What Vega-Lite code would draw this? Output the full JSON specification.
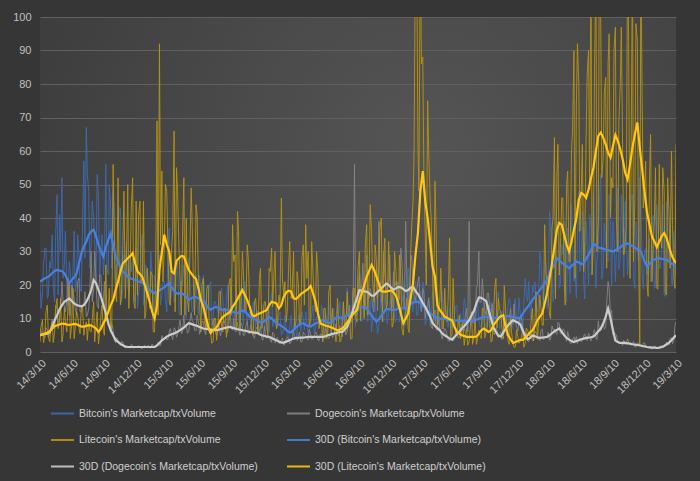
{
"$schema":"https://vega.github.io/schema/vega-lite/v6.json",
"width":636,"height":335,
"autosize":{"type":"none"},
"padding":{"left":40,"top":17,"right":24,"bottom":129},
"background":"#363636",
"config":{"view":{"stroke":null,"fill":{"gradient":"radial","x1":0.6,"y1":0.45,"r1":0,"x2":0.6,"y2":0.45,"r2":0.75,"stops":[{"offset":0,"color":"#555555"},{"offset":1,"color":"#393939"}]}}},
"data":{"values":[
{"d":"2014-03-10","b":21,"g":7,"l":3,"B":21,"G":5,"L":5},
{"d":"2014-03-17","b":17,"g":5.7,"l":9.5,"B":21.5,"G":5.2,"L":5.3},
{"d":"2014-03-24","b":31,"g":4.3,"l":5,"B":22,"G":5.4,"L":5.5},
{"d":"2014-03-31","b":16,"g":6.6,"l":14,"B":22.3,"G":5.5,"L":5.8},
{"d":"2014-04-07","b":27,"g":5.4,"l":3,"B":22.8,"G":6,"L":6.2},
{"d":"2014-04-14","b":35,"g":9.8,"l":9,"B":23.5,"G":7.5,"L":7},
{"d":"2014-04-21","b":15,"g":7.1,"l":6,"B":24.2,"G":9.5,"L":7.7},
{"d":"2014-04-28","b":47,"g":13,"l":16,"B":24.5,"G":11,"L":8},
{"d":"2014-05-05","b":41,"g":10,"l":9,"B":24.3,"G":12.7,"L":8.2},
{"d":"2014-05-12","b":52,"g":21,"l":3,"B":24.1,"G":14,"L":8.5},
{"d":"2014-05-19","b":26,"g":13.5,"l":13,"B":23.5,"G":15,"L":8.4},
{"d":"2014-05-26","b":20,"g":15.5,"l":6,"B":22,"G":15.5,"L":8.2},
{"d":"2014-06-02","b":27,"g":11,"l":21,"B":20.5,"G":16,"L":8.1},
{"d":"2014-06-09","b":15,"g":20,"l":8,"B":21.5,"G":15.2,"L":8.2},
{"d":"2014-06-16","b":36,"g":16,"l":4,"B":22.2,"G":14.5,"L":8.4},
{"d":"2014-06-23","b":21,"g":11,"l":12,"B":23.5,"G":14,"L":8.3},
{"d":"2014-06-30","b":29,"g":22,"l":7,"B":26.5,"G":13.8,"L":7.9},
{"d":"2014-07-07","b":18,"g":12,"l":14,"B":29.5,"G":13.6,"L":7.6},
{"d":"2014-07-14","b":57,"g":14,"l":5,"B":31.5,"G":14,"L":7.6},
{"d":"2014-07-21","b":67,"g":10.5,"l":9,"B":33,"G":15,"L":7.8},
{"d":"2014-07-28","b":48,"g":13,"l":10,"B":35,"G":16.5,"L":8},
{"d":"2014-08-04","b":32,"g":30,"l":6,"B":36,"G":18.5,"L":7.9},
{"d":"2014-08-11","b":40,"g":19,"l":15,"B":36.5,"G":21.5,"L":7.5},
{"d":"2014-08-18","b":21,"g":20.5,"l":8,"B":34.5,"G":20.5,"L":7},
{"d":"2014-08-25","b":46,"g":13,"l":2.4,"B":32,"G":18.5,"L":6},
{"d":"2014-09-01","b":30,"g":23,"l":11,"B":30,"G":16.5,"L":7},
{"d":"2014-09-08","b":23,"g":15,"l":6,"B":28.5,"G":14,"L":8.6},
{"d":"2014-09-15","b":56,"g":9.2,"l":26,"B":31.5,"G":11.5,"L":10},
{"d":"2014-09-22","b":23,"g":10,"l":12,"B":33.5,"G":8.5,"L":12},
{"d":"2014-09-29","b":43,"g":5.9,"l":7,"B":35.5,"G":6.5,"L":14},
{"d":"2014-10-06","b":48,"g":6.5,"l":56,"B":32,"G":5,"L":15.5},
{"d":"2014-10-13","b":17,"g":2.7,"l":17,"B":28.5,"G":3.6,"L":18.5},
{"d":"2014-10-20","b":27,"g":3.6,"l":52,"B":27,"G":3,"L":21},
{"d":"2014-10-27","b":43,"g":1.9,"l":14,"B":25.3,"G":2.4,"L":24},
{"d":"2014-11-03","b":19,"g":3,"l":32,"B":24,"G":2,"L":26.5},
{"d":"2014-11-10","b":26,"g":1.4,"l":16,"B":23.3,"G":1.6,"L":27.2},
{"d":"2014-11-17","b":20,"g":1.5,"l":50,"B":22.5,"G":1.5,"L":28},
{"d":"2014-11-24","b":29,"g":1.1,"l":26,"B":22,"G":1.5,"L":28.6},
{"d":"2014-12-01","b":28,"g":2,"l":52,"B":21.7,"G":1.5,"L":29.5},
{"d":"2014-12-08","b":15,"g":1.7,"l":13,"B":21.5,"G":1.5,"L":26.5},
{"d":"2014-12-15","b":13,"g":1.4,"l":17,"B":21.2,"G":1.5,"L":24},
{"d":"2014-12-22","b":21,"g":1.5,"l":45,"B":20.9,"G":1.5,"L":23.3},
{"d":"2014-12-29","b":35,"g":1,"l":22,"B":20.6,"G":1.5,"L":22.3},
{"d":"2015-01-05","b":16,"g":2,"l":10,"B":20,"G":1.5,"L":20},
{"d":"2015-01-12","b":21,"g":1.7,"l":25,"B":19.2,"G":1.5,"L":17.5},
{"d":"2015-01-19","b":17,"g":1.2,"l":13,"B":18.5,"G":1.5,"L":15},
{"d":"2015-01-26","b":23,"g":2.4,"l":23,"B":18,"G":1.5,"L":12},
{"d":"2015-02-02","b":23,"g":1.4,"l":6,"B":17.6,"G":1.5,"L":10},
{"d":"2015-02-09","b":12,"g":2,"l":69,"B":17.7,"G":2,"L":14},
{"d":"2015-02-16","b":29,"g":1.9,"l":92,"B":18.3,"G":2.7,"L":24.5},
{"d":"2015-02-23","b":17,"g":4.9,"l":54,"B":18.9,"G":3.5,"L":30},
{"d":"2015-03-02","b":21,"g":4.4,"l":32,"B":19.3,"G":4,"L":35},
{"d":"2015-03-09","b":12,"g":3.7,"l":48,"B":20,"G":4.6,"L":32},
{"d":"2015-03-16","b":37,"g":6,"l":15,"B":20.5,"G":5,"L":30},
{"d":"2015-03-23","b":19,"g":4.8,"l":31,"B":19.3,"G":5.3,"L":24},
{"d":"2015-03-30","b":15,"g":7.2,"l":66,"B":18.2,"G":5.5,"L":23.5},
{"d":"2015-04-06","b":25,"g":4.4,"l":55,"B":17.5,"G":5.9,"L":27.2},
{"d":"2015-04-13","b":12,"g":7.6,"l":31,"B":17.5,"G":6.3,"L":28},
{"d":"2015-04-20","b":21,"g":5.4,"l":11,"B":17.5,"G":6.8,"L":28.7},
{"d":"2015-04-27","b":26,"g":11,"l":52,"B":17.2,"G":7.3,"L":28.5},
{"d":"2015-05-04","b":10,"g":8,"l":40,"B":16.5,"G":8,"L":26.5},
{"d":"2015-05-11","b":28,"g":6,"l":12,"B":15.6,"G":8.6,"L":24.5},
{"d":"2015-05-18","b":16,"g":11.8,"l":49,"B":16,"G":8.4,"L":23.5},
{"d":"2015-05-25","b":13,"g":8.9,"l":18,"B":16.4,"G":8.1,"L":22.5},
{"d":"2015-06-01","b":23,"g":6.3,"l":44,"B":16.4,"G":7.9,"L":21.8},
{"d":"2015-06-08","b":11,"g":9.1,"l":21,"B":16,"G":7.6,"L":19},
{"d":"2015-06-15","b":19,"g":6.6,"l":6,"B":15.7,"G":7.3,"L":15.5},
{"d":"2015-06-22","b":23,"g":9.1,"l":22,"B":15.4,"G":7,"L":13.5},
{"d":"2015-06-29","b":9,"g":5.2,"l":7,"B":14.3,"G":6.9,"L":10.5},
{"d":"2015-07-06","b":13,"g":8.2,"l":20,"B":13.2,"G":6.8,"L":7.5},
{"d":"2015-07-13","b":21,"g":5.4,"l":6,"B":12.6,"G":6.7,"L":5.7},
{"d":"2015-07-20","b":10,"g":9.9,"l":3,"B":13.1,"G":6.6,"L":6.5},
{"d":"2015-07-27","b":15,"g":5.9,"l":10,"B":13.4,"G":6.5,"L":7},
{"d":"2015-08-03","b":12,"g":6.6,"l":7,"B":13.3,"G":6.6,"L":8},
{"d":"2015-08-10","b":17,"g":4.8,"l":18,"B":12.8,"G":6.8,"L":9.5},
{"d":"2015-08-17","b":16,"g":9.1,"l":6,"B":12.5,"G":7,"L":10.5},
{"d":"2015-08-24","b":9,"g":7.9,"l":13,"B":12.5,"G":7.2,"L":11},
{"d":"2015-08-31","b":20,"g":5.9,"l":7,"B":12.5,"G":7.4,"L":11.5},
{"d":"2015-09-07","b":11,"g":12,"l":22,"B":12.5,"G":7.5,"L":12},
{"d":"2015-09-14","b":13,"g":6.5,"l":38,"B":12,"G":7.2,"L":13.5},
{"d":"2015-09-21","b":14,"g":6.3,"l":29,"B":11.8,"G":7,"L":14.5},
{"d":"2015-09-28","b":17,"g":8.8,"l":42,"B":11.6,"G":6.8,"L":15.8},
{"d":"2015-10-05","b":7,"g":5,"l":7,"B":12,"G":6.7,"L":17.2},
{"d":"2015-10-12","b":12,"g":7.8,"l":30,"B":12.4,"G":6.5,"L":18.5},
{"d":"2015-10-19","b":21,"g":5.1,"l":12,"B":12.1,"G":6.4,"L":17},
{"d":"2015-10-26","b":9,"g":9.3,"l":32,"B":11.4,"G":6.2,"L":15.5},
{"d":"2015-11-02","b":12,"g":5.4,"l":14,"B":10.5,"G":6,"L":13.5},
{"d":"2015-11-09","b":9,"g":5.9,"l":6,"B":10.2,"G":5.9,"L":11},
{"d":"2015-11-16","b":13,"g":4.1,"l":15,"B":9.8,"G":5.8,"L":10.7},
{"d":"2015-11-23","b":12,"g":7.4,"l":10,"B":9.5,"G":5.7,"L":11.2},
{"d":"2015-11-30","b":6,"g":5.8,"l":22,"B":9,"G":5.3,"L":11.5},
{"d":"2015-12-07","b":14,"g":4,"l":7,"B":8.7,"G":5,"L":11.8},
{"d":"2015-12-14","b":8,"g":7.7,"l":15,"B":9.2,"G":4.8,"L":12.2},
{"d":"2015-12-21","b":11,"g":4.1,"l":8,"B":9.8,"G":4.6,"L":12.5},
{"d":"2015-12-28","b":6,"g":4.5,"l":25,"B":10.4,"G":4.5,"L":14},
{"d":"2016-01-04","b":18,"g":2.9,"l":31,"B":10,"G":4.2,"L":15},
{"d":"2016-01-11","b":9,"g":5.3,"l":24,"B":9.3,"G":3.8,"L":14.8},
{"d":"2016-01-18","b":7,"g":3.9,"l":7,"B":8.6,"G":3.5,"L":14.5},
{"d":"2016-01-25","b":11,"g":2.5,"l":17,"B":8.2,"G":3.1,"L":13},
{"d":"2016-02-01","b":5,"g":3.4,"l":46,"B":7.8,"G":2.8,"L":14},
{"d":"2016-02-08","b":7,"g":2,"l":17,"B":7.3,"G":2.8,"L":16.5},
{"d":"2016-02-15","b":7,"g":4,"l":9,"B":6.6,"G":3.1,"L":17.8},
{"d":"2016-02-22","b":4,"g":3.7,"l":26,"B":6,"G":3.4,"L":18.3},
{"d":"2016-02-29","b":11,"g":3,"l":16,"B":5.9,"G":3.7,"L":18},
{"d":"2016-03-07","b":7,"g":6.4,"l":30,"B":6.6,"G":4,"L":16},
{"d":"2016-03-14","b":6,"g":3.8,"l":9,"B":7.3,"G":4.2,"L":15.8},
{"d":"2016-03-21","b":11,"g":4.2,"l":20,"B":8,"G":4.2,"L":16.5},
{"d":"2016-03-28","b":6,"g":3,"l":10,"B":8.4,"G":4.3,"L":17.3},
{"d":"2016-04-04","b":10,"g":6,"l":32,"B":8.6,"G":4.3,"L":17.8},
{"d":"2016-04-11","b":12,"g":4.8,"l":38,"B":8.1,"G":4.4,"L":18.3},
{"d":"2016-04-18","b":5,"g":3.6,"l":30,"B":7.7,"G":4.5,"L":18.8},
{"d":"2016-04-25","b":8,"g":5.4,"l":10,"B":7.6,"G":4.5,"L":19.7},
{"d":"2016-05-02","b":14,"g":4,"l":23,"B":8.1,"G":4.5,"L":17.5},
{"d":"2016-05-09","b":7,"g":5.9,"l":12,"B":8.5,"G":4.5,"L":15},
{"d":"2016-05-16","b":10,"g":3.4,"l":23,"B":8.8,"G":4.5,"L":11.5},
{"d":"2016-05-23","b":8,"g":5.4,"l":9,"B":9.2,"G":4.5,"L":8.5},
{"d":"2016-05-30","b":12,"g":3.6,"l":3,"B":9.5,"G":4.5,"L":8.2},
{"d":"2016-06-06","b":12,"g":7,"l":13,"B":9.2,"G":4.7,"L":7.9},
{"d":"2016-06-13","b":6,"g":4.5,"l":5,"B":8.8,"G":5,"L":7.7},
{"d":"2016-06-20","b":14,"g":5.2,"l":20,"B":8.6,"G":5.2,"L":7.5},
{"d":"2016-06-27","b":13,"g":4.3,"l":13,"B":9.3,"G":5.4,"L":7.2},
{"d":"2016-07-04","b":7,"g":6.7,"l":6,"B":10,"G":5.6,"L":6.8},
{"d":"2016-07-11","b":13,"g":5.2,"l":16,"B":10.5,"G":5.8,"L":6.5},
{"d":"2016-07-18","b":15,"g":7.8,"l":3,"B":10.3,"G":6,"L":6.7},
{"d":"2016-07-25","b":6,"g":4.5,"l":9,"B":10.1,"G":6,"L":7},
{"d":"2016-08-01","b":10,"g":8.2,"l":6,"B":10.4,"G":6.8,"L":7.8},
{"d":"2016-08-08","b":19,"g":6,"l":18,"B":11,"G":7.5,"L":8.8},
{"d":"2016-08-15","b":9,"g":14,"l":11,"B":11.5,"G":9.5,"L":9.8},
{"d":"2016-08-22","b":13,"g":10,"l":4,"B":11.6,"G":11.5,"L":11},
{"d":"2016-08-29","b":11,"g":56,"l":19,"B":11.8,"G":14,"L":11.8},
{"d":"2016-09-05","b":16,"g":11,"l":9,"B":12,"G":16,"L":12.5},
{"d":"2016-09-12","b":18,"g":24,"l":30,"B":13.5,"G":18.5,"L":15.5},
{"d":"2016-09-19","b":9,"g":20,"l":18,"B":13.4,"G":18.3,"L":17.5},
{"d":"2016-09-26","b":21,"g":14,"l":10,"B":13.2,"G":18.1,"L":20},
{"d":"2016-10-03","b":12,"g":29,"l":38,"B":13,"G":18,"L":22.5},
{"d":"2016-10-10","b":13,"g":16,"l":22,"B":12,"G":17.5,"L":24.2},
{"d":"2016-10-17","b":6,"g":17,"l":36,"B":10.8,"G":16.8,"L":26},
{"d":"2016-10-24","b":18,"g":12,"l":15,"B":10,"G":16.8,"L":24.5},
{"d":"2016-10-31","b":9,"g":25,"l":27,"B":9,"G":17.6,"L":22.5},
{"d":"2016-11-07","b":8,"g":39,"l":26,"B":9.8,"G":18.3,"L":20.5},
{"d":"2016-11-14","b":18,"g":15,"l":40,"B":10.8,"G":19,"L":18.2},
{"d":"2016-11-21","b":9,"g":30,"l":29,"B":11.8,"G":19.7,"L":18},
{"d":"2016-11-28","b":14,"g":18,"l":13,"B":12.8,"G":20.4,"L":18},
{"d":"2016-12-05","b":12,"g":20,"l":33,"B":12.8,"G":20,"L":18.2},
{"d":"2016-12-12","b":16,"g":13,"l":18,"B":12.6,"G":19.2,"L":18.4},
{"d":"2016-12-19","b":16,"g":24,"l":9,"B":12.5,"G":18.6,"L":17.8},
{"d":"2016-12-26","b":9,"g":21,"l":24,"B":12.7,"G":19,"L":16.8},
{"d":"2017-01-02","b":21,"g":16,"l":13,"B":12.9,"G":19.4,"L":14.5},
{"d":"2017-01-09","b":12,"g":31,"l":22,"B":13,"G":19.3,"L":11.5},
{"d":"2017-01-16","b":14,"g":17,"l":5,"B":13,"G":18.8,"L":8.6},
{"d":"2017-01-23","b":8,"g":39,"l":12,"B":13,"G":18.2,"L":10},
{"d":"2017-01-30","b":25,"g":13,"l":7,"B":13.7,"G":18.5,"L":11.5},
{"d":"2017-02-06","b":14,"g":27,"l":29,"B":14.3,"G":19.2,"L":16},
{"d":"2017-02-13","b":12,"g":21,"l":45,"B":14.8,"G":19.5,"L":20.5},
{"d":"2017-02-20","b":21,"g":15,"l":125,"B":14.9,"G":18.2,"L":29},
{"d":"2017-02-27","b":11,"g":21,"l":62,"B":15,"G":17.3,"L":35.5},
{"d":"2017-03-06","b":18,"g":14,"l":125,"B":14.6,"G":16,"L":48},
{"d":"2017-03-13","b":21,"g":19,"l":88,"B":13.8,"G":14.7,"L":54},
{"d":"2017-03-20","b":8,"g":10,"l":35,"B":13,"G":13.5,"L":45},
{"d":"2017-03-27","b":12,"g":14,"l":75,"B":12.2,"G":12,"L":40},
{"d":"2017-04-03","b":8,"g":11.6,"l":46,"B":11.6,"G":10.5,"L":33},
{"d":"2017-04-10","b":18,"g":7,"l":23,"B":11,"G":8.7,"L":25.5},
{"d":"2017-04-17","b":9,"g":12.5,"l":51,"B":10.5,"G":7.8,"L":22.5},
{"d":"2017-04-24","b":11,"g":6.4,"l":8,"B":10,"G":7.1,"L":14},
{"d":"2017-05-01","b":6,"g":6.5,"l":15,"B":10,"G":6.5,"L":12.5},
{"d":"2017-05-08","b":18,"g":3.9,"l":7,"B":10,"G":5.5,"L":11.5},
{"d":"2017-05-15","b":10,"g":7,"l":19,"B":9.9,"G":5,"L":10.5},
{"d":"2017-05-22","b":8,"g":5,"l":9,"B":9.7,"G":4.5,"L":10.2},
{"d":"2017-05-29","b":13,"g":3.2,"l":34,"B":9.5,"G":4,"L":9.8},
{"d":"2017-06-05","b":7,"g":4.4,"l":5,"B":9.5,"G":3.7,"L":9.5},
{"d":"2017-06-12","b":11,"g":4,"l":10,"B":9.4,"G":4.5,"L":7.5},
{"d":"2017-06-19","b":14,"g":6.9,"l":5,"B":9.4,"G":5.3,"L":6},
{"d":"2017-06-26","b":6,"g":4.5,"l":11,"B":9.3,"G":6,"L":5.5},
{"d":"2017-07-03","b":9,"g":8.4,"l":5.5,"B":9.3,"G":7,"L":5},
{"d":"2017-07-10","b":16,"g":6.2,"l":2,"B":9.3,"G":7.7,"L":4.8},
{"d":"2017-07-17","b":7,"g":13,"l":7,"B":9.2,"G":8.6,"L":4.5},
{"d":"2017-07-24","b":10,"g":39,"l":3,"B":9.2,"G":9.5,"L":4.5},
{"d":"2017-07-31","b":8,"g":11,"l":12,"B":9.2,"G":11,"L":4.5},
{"d":"2017-08-07","b":12,"g":8.6,"l":4.5,"B":9.3,"G":12.3,"L":4.5},
{"d":"2017-08-14","b":12,"g":19,"l":2.3,"B":9.6,"G":14.5,"L":4.6},
{"d":"2017-08-21","b":10,"g":30,"l":6.6,"B":9.9,"G":16.3,"L":5.5},
{"d":"2017-08-28","b":8,"g":15,"l":4,"B":10.2,"G":16.2,"L":6.5},
{"d":"2017-09-04","b":15,"g":16,"l":13,"B":10.4,"G":15.7,"L":7},
{"d":"2017-09-11","b":7,"g":11,"l":6,"B":10.5,"G":15.2,"L":6.5},
{"d":"2017-09-18","b":12,"g":17.5,"l":14,"B":10.4,"G":12.5,"L":6},
{"d":"2017-09-25","b":15,"g":11,"l":3,"B":10.3,"G":10,"L":6.5},
{"d":"2017-10-02","b":6,"g":5.8,"l":10,"B":10.2,"G":7.3,"L":8},
{"d":"2017-10-09","b":10,"g":7.2,"l":22,"B":10.2,"G":6,"L":9},
{"d":"2017-10-16","b":18,"g":4.3,"l":16,"B":10.4,"G":4.8,"L":10},
{"d":"2017-10-23","b":8,"g":6,"l":12,"B":10.5,"G":4.6,"L":10.7},
{"d":"2017-10-30","b":12,"g":4.4,"l":4,"B":10.6,"G":5.8,"L":11},
{"d":"2017-11-06","b":10,"g":8.4,"l":12,"B":10.7,"G":7,"L":7.5},
{"d":"2017-11-13","b":14,"g":6.4,"l":3.5,"B":10.7,"G":8,"L":5},
{"d":"2017-11-20","b":14,"g":13,"l":10,"B":10.6,"G":8.8,"L":3.8},
{"d":"2017-11-27","b":7,"g":8.6,"l":2.7,"B":10.5,"G":9.5,"L":2.7},
{"d":"2017-12-04","b":16,"g":9.1,"l":1.5,"B":10.3,"G":9.1,"L":3},
{"d":"2017-12-11","b":9,"g":6.2,"l":4.6,"B":10.1,"G":8.8,"L":3.3},
{"d":"2017-12-18","b":11,"g":10.7,"l":3.2,"B":10.2,"G":8.2,"L":3.6},
{"d":"2017-12-25","b":7,"g":7.2,"l":6.8,"B":11.5,"G":6.5,"L":3.6},
{"d":"2018-01-01","b":22,"g":3.8,"l":2.5,"B":12.5,"G":4.8,"L":4.2},
{"d":"2018-01-08","b":15,"g":3.4,"l":6.5,"B":13.5,"G":3.8,"L":5},
{"d":"2018-01-15","b":13,"g":4.2,"l":4.6,"B":14.5,"G":4.2,"L":5.8},
{"d":"2018-01-22","b":20,"g":3.4,"l":13,"B":15.5,"G":4.9,"L":6.5},
{"d":"2018-01-29","b":21,"g":6.1,"l":8.6,"B":16.5,"G":4.7,"L":7.8},
{"d":"2018-02-05","b":12,"g":4.8,"l":3.8,"B":17.5,"G":4.4,"L":9.5},
{"d":"2018-02-12","b":30,"g":3.4,"l":17,"B":18.5,"G":4.2,"L":10.5},
{"d":"2018-02-19","b":18,"g":6.9,"l":8,"B":19.5,"G":4.3,"L":11.5},
{"d":"2018-02-26","b":23,"g":4,"l":38,"B":20.5,"G":4.4,"L":14.5},
{"d":"2018-03-05","b":13,"g":4.5,"l":17.5,"B":21.5,"G":4.5,"L":17.5},
{"d":"2018-03-12","b":42,"g":3.5,"l":11,"B":23.5,"G":5,"L":22},
{"d":"2018-03-19","b":25,"g":7.8,"l":37,"B":25,"G":5.6,"L":26.5},
{"d":"2018-03-26","b":21,"g":6.8,"l":64,"B":26,"G":6.2,"L":31.5},
{"d":"2018-04-02","b":39,"g":5.3,"l":52,"B":28,"G":6.6,"L":36.5},
{"d":"2018-04-09","b":19,"g":8.4,"l":23,"B":27.3,"G":7,"L":38.5},
{"d":"2018-04-16","b":32,"g":5.4,"l":46,"B":26.7,"G":6,"L":38},
{"d":"2018-04-23","b":39,"g":6.5,"l":21,"B":26.2,"G":5,"L":35},
{"d":"2018-04-30","b":15,"g":3.2,"l":50,"B":25.6,"G":4.2,"L":32},
{"d":"2018-05-07","b":25,"g":4.4,"l":27,"B":25,"G":3.7,"L":30},
{"d":"2018-05-14","b":44,"g":2.6,"l":60,"B":25.7,"G":3.3,"L":33},
{"d":"2018-05-21","b":21,"g":4.5,"l":90,"B":26.3,"G":3,"L":36.5},
{"d":"2018-05-28","b":16,"g":4.6,"l":74,"B":27,"G":3.3,"L":40},
{"d":"2018-06-04","b":48,"g":3.9,"l":80,"B":26.7,"G":3.5,"L":45.5},
{"d":"2018-06-11","b":26,"g":3,"l":48,"B":26.2,"G":3.8,"L":47.5},
{"d":"2018-06-18","b":21,"g":4.8,"l":24,"B":26.5,"G":4,"L":47},
{"d":"2018-06-25","b":39,"g":3.8,"l":64,"B":27.8,"G":4.2,"L":46},
{"d":"2018-07-02","b":20,"g":5.6,"l":90,"B":29,"G":4.3,"L":48.5},
{"d":"2018-07-09","b":37,"g":3.3,"l":120,"B":30.5,"G":4.4,"L":52},
{"d":"2018-07-16","b":48,"g":5.5,"l":33,"B":32.3,"G":4.6,"L":55},
{"d":"2018-07-23","b":19,"g":4.2,"l":115,"B":31.8,"G":5.3,"L":60},
{"d":"2018-07-30","b":31,"g":9.3,"l":39,"B":31.2,"G":6.2,"L":64.5},
{"d":"2018-08-06","b":53,"g":6.3,"l":97,"B":31,"G":7,"L":65.5},
{"d":"2018-08-13","b":25,"g":8.5,"l":58,"B":30.8,"G":8.5,"L":64},
{"d":"2018-08-20","b":34,"g":7.4,"l":82,"B":30.6,"G":10.5,"L":62},
{"d":"2018-08-27","b":27,"g":21,"l":86,"B":30.4,"G":13,"L":59.5},
{"d":"2018-09-03","b":39,"g":11,"l":40,"B":30.2,"G":10,"L":58},
{"d":"2018-09-10","b":39,"g":5.2,"l":49,"B":30,"G":6.5,"L":61.5},
{"d":"2018-09-17","b":21,"g":5.4,"l":97,"B":30.4,"G":3.4,"L":64.8},
{"d":"2018-09-24","b":49,"g":2.7,"l":30,"B":30.8,"G":3,"L":63},
{"d":"2018-10-01","b":28,"g":2.7,"l":80,"B":31.2,"G":2.7,"L":60.5},
{"d":"2018-10-08","b":35,"g":1.9,"l":58,"B":31.8,"G":2.7,"L":57.5},
{"d":"2018-10-15","b":45,"g":2.2,"l":32,"B":32.3,"G":2.7,"L":53.5},
{"d":"2018-10-22","b":23,"g":3.9,"l":120,"B":32.4,"G":2.6,"L":51.5},
{"d":"2018-10-29","b":38,"g":2.3,"l":22,"B":32,"G":2.5,"L":56},
{"d":"2018-11-05","b":47,"g":2.3,"l":120,"B":31.6,"G":2.3,"L":61},
{"d":"2018-11-12","b":19,"g":1.5,"l":46,"B":31.2,"G":2.2,"L":65},
{"d":"2018-11-19","b":31,"g":2.7,"l":93,"B":30.6,"G":2.1,"L":68.5},
{"d":"2018-11-26","b":52,"g":2.2,"l":2,"B":30.5,"G":2,"L":61},
{"d":"2018-12-03","b":23,"g":1.4,"l":74,"B":29,"G":1.8,"L":54.3},
{"d":"2018-12-10","b":30,"g":2.7,"l":50,"B":27,"G":1.7,"L":47.5},
{"d":"2018-12-17","b":23,"g":1.4,"l":20,"B":25.5,"G":1.5,"L":41.5},
{"d":"2018-12-24","b":34,"g":1.4,"l":52,"B":26.3,"G":1.4,"L":38},
{"d":"2018-12-31","b":35,"g":0.9,"l":21,"B":27.2,"G":1.3,"L":34.5},
{"d":"2019-01-07","b":19,"g":1.8,"l":40,"B":27.6,"G":1.3,"L":33},
{"d":"2019-01-14","b":44,"g":1.3,"l":19,"B":27.8,"G":1.2,"L":31.3},
{"d":"2019-01-21","b":25,"g":1,"l":56,"B":28,"G":1.3,"L":33},
{"d":"2019-01-28","b":31,"g":1.8,"l":31,"B":27.8,"G":1.5,"L":34.5},
{"d":"2019-02-04","b":17,"g":1.6,"l":48,"B":27.7,"G":1.8,"L":35.5},
{"d":"2019-02-11","b":45,"g":3,"l":17,"B":27.5,"G":2.3,"L":34},
{"d":"2019-02-18","b":27,"g":2.1,"l":41,"B":27,"G":2.8,"L":31.5},
{"d":"2019-02-25","b":21,"g":4.2,"l":60,"B":26.4,"G":3.5,"L":29},
{"d":"2019-03-04","b":36,"g":3.4,"l":22,"B":26,"G":4.3,"L":27.5},
{"d":"2019-03-10","b":22,"g":9,"l":62,"B":25.5,"G":5,"L":26.5},
{"d":"2014-03-13","b":13,"g":6,"l":7.5},
{"d":"2014-03-20","b":26,"g":4.7,"l":2.7},
{"d":"2014-03-27","b":31,"g":7.3,"l":12},
{"d":"2014-04-03","b":17,"g":4.4,"l":4.6},
{"d":"2014-04-10","b":25,"g":6.9,"l":7.4},
{"d":"2014-04-17","b":20,"g":7.1,"l":2.8},
{"d":"2014-04-24","b":35,"g":14,"l":13},
{"d":"2014-05-01","b":17,"g":7.7,"l":7},
{"d":"2014-05-08","b":30,"g":13,"l":16},
{"d":"2014-05-15","b":22,"g":15,"l":5},
{"d":"2014-05-22","b":36,"g":12,"l":9},
{"d":"2014-05-29","b":14,"g":22,"l":13},
{"d":"2014-06-05","b":24,"g":11,"l":4},
{"d":"2014-06-12","b":22,"g":19,"l":19},
{"d":"2014-06-19","b":18,"g":13,"l":7},
{"d":"2014-06-26","b":35,"g":21,"l":11},
{"d":"2014-07-03","b":19,"g":12,"l":5.5},
{"d":"2014-07-10","b":38,"g":14,"l":14},
{"d":"2014-07-17","b":28,"g":18,"l":7.6},
{"d":"2014-07-24","b":53,"g":11,"l":3.5},
{"d":"2014-07-31","b":25,"g":18,"l":6.4},
{"d":"2014-08-07","b":45,"g":15,"l":9.5},
{"d":"2014-08-14","b":33,"g":30,"l":3},
{"d":"2014-08-21","b":53,"g":14,"l":12},
{"d":"2014-08-28","b":21,"g":23,"l":5.4},
{"d":"2014-09-04","b":35,"g":15,"l":14},
{"d":"2014-09-11","b":28,"g":21,"l":5},
{"d":"2014-09-18","b":25,"g":10,"l":11},
{"d":"2014-09-25","b":50,"g":8.5,"l":19},
{"d":"2014-10-02","b":25,"g":8.5,"l":7},
{"d":"2014-10-09","b":42,"g":3.8,"l":36},
{"d":"2014-10-16","b":26,"g":4.3,"l":15},
{"d":"2014-10-23","b":43,"g":2.7,"l":27},
{"d":"2014-10-30","b":15,"g":3.2,"l":17},
{"d":"2014-11-06","b":29,"g":1.6,"l":48},
{"d":"2014-11-13","b":33,"g":1.8,"l":27},
{"d":"2014-11-20","b":17,"g":1.4,"l":13},
{"d":"2014-11-27","b":24,"g":2.2,"l":43},
{"d":"2014-12-04","b":18,"g":1.1,"l":15},
{"d":"2014-12-11","b":31,"g":1.6,"l":45},
{"d":"2014-12-18","b":17,"g":2,"l":41},
{"d":"2014-12-25","b":31,"g":1.1,"l":21},
{"d":"2015-01-01","b":14,"g":1.8,"l":45},
{"d":"2015-01-08","b":26,"g":1.4,"l":12},
{"d":"2015-01-15","b":17,"g":2,"l":19},
{"d":"2015-01-22","b":30,"g":1.2,"l":24},
{"d":"2015-01-29","b":11,"g":1.7,"l":6},
{"d":"2015-02-05","b":21,"g":1.4,"l":23},
{"d":"2015-02-12","b":25,"g":2.9,"l":11},
{"d":"2015-02-19","b":14,"g":1.9,"l":32},
{"d":"2015-02-26","b":21,"g":3.7,"l":21},
{"d":"2015-03-05","b":16,"g":4.4,"l":50},
{"d":"2015-03-12","b":29,"g":3.7,"l":32},
{"d":"2015-03-19","b":14,"g":7,"l":14},
{"d":"2015-03-26","b":24,"g":3.7,"l":36},
{"d":"2015-04-02","b":16,"g":6.9,"l":12},
{"d":"2015-04-09","b":27,"g":5.3,"l":48},
{"d":"2015-04-16","b":11,"g":9.5,"l":22},
{"d":"2015-04-23","b":20,"g":5.8,"l":34},
{"d":"2015-04-30","b":17,"g":7.3,"l":11},
{"d":"2015-05-07","b":20,"g":5.6,"l":16},
{"d":"2015-05-14","b":22,"g":9,"l":27},
{"d":"2015-05-21","b":12,"g":9.2,"l":38},
{"d":"2015-05-28","b":18,"g":6.5,"l":11},
{"d":"2015-06-04","b":14,"g":11,"l":41},
{"d":"2015-06-11","b":23,"g":5.3,"l":15},
{"d":"2015-06-18","b":11,"g":9.1,"l":20},
{"d":"2015-06-25","b":19,"g":6.3,"l":9.5},
{"d":"2015-07-02","b":13,"g":10,"l":19},
{"d":"2015-07-09","b":20,"g":5.8,"l":7.5},
{"d":"2015-07-16","b":8,"g":6.7,"l":2.6},
{"d":"2015-07-23","b":15,"g":8.6,"l":10},
{"d":"2015-07-30","b":13,"g":4.9,"l":3.5},
{"d":"2015-08-06","b":11,"g":7.9,"l":18},
{"d":"2015-08-13","b":19,"g":6.1,"l":7.6},
{"d":"2015-08-20","b":9,"g":9.5,"l":13},
{"d":"2015-08-27","b":16,"g":5.8,"l":4.4},
{"d":"2015-09-03","b":11,"g":8.5,"l":20},
{"d":"2015-09-10","b":20,"g":7.1,"l":11},
{"d":"2015-09-17","b":7,"g":10,"l":27},
{"d":"2015-09-24","b":15,"g":6,"l":7},
{"d":"2015-10-01","b":10,"g":6.8,"l":36},
{"d":"2015-10-08","b":19,"g":8.7,"l":14},
{"d":"2015-10-15","b":8,"g":4.9,"l":24},
{"d":"2015-10-22","b":14,"g":7.7,"l":12},
{"d":"2015-10-29","b":11,"g":5.6,"l":28},
{"d":"2015-11-05","b":8,"g":8.1,"l":13.5},
{"d":"2015-11-12","b":15,"g":4.7,"l":5},
{"d":"2015-11-19","b":7,"g":6.7,"l":16},
{"d":"2015-11-26","b":12,"g":5.4,"l":5.6},
{"d":"2015-12-03","b":8,"g":7.7,"l":25},
{"d":"2015-12-10","b":14,"g":3.5,"l":9.4},
{"d":"2015-12-17","b":5.5,"g":5,"l":15},
{"d":"2015-12-24","b":12,"g":5.1,"l":5},
{"d":"2015-12-31","b":15,"g":3.6,"l":24},
{"d":"2016-01-07","b":7.5,"g":5.9,"l":13.5},
{"d":"2016-01-14","b":10,"g":2.7,"l":30},
{"d":"2016-01-21","b":7.3,"g":4.4,"l":8.7},
{"d":"2016-01-28","b":12,"g":2.8,"l":14},
{"d":"2016-02-04","b":5.5,"g":4.2,"l":22},
{"d":"2016-02-11","b":11,"g":2.7,"l":21},
{"d":"2016-02-18","b":4.6,"g":4.5,"l":12.5},
{"d":"2016-02-25","b":7.8,"g":2.4,"l":33},
{"d":"2016-03-03","b":5.3,"g":3.9,"l":18},
{"d":"2016-03-10","b":10.5,"g":4.4,"l":7.2},
{"d":"2016-03-17","b":4.4,"g":3.4,"l":24},
{"d":"2016-03-24","b":9.6,"g":5.9,"l":8},
{"d":"2016-03-31","b":12,"g":3,"l":28},
{"d":"2016-04-07","b":6.5,"g":5.4,"l":14},
{"d":"2016-04-14","b":8.9,"g":4,"l":22},
{"d":"2016-04-21","b":6.5,"g":6.8,"l":7.5},
{"d":"2016-04-28","b":11,"g":3.8,"l":33},
{"d":"2016-05-05","b":5.7,"g":4.5,"l":16},
{"d":"2016-05-12","b":10.6,"g":5.9,"l":30},
{"d":"2016-05-19","b":7.9,"g":3.4,"l":7},
{"d":"2016-05-26","b":14,"g":5.4,"l":9.4},
{"d":"2016-06-02","b":6.2,"g":4,"l":13},
{"d":"2016-06-09","b":10.6,"g":6.3,"l":4},
{"d":"2016-06-16","b":8.8,"g":4,"l":18},
{"d":"2016-06-23","b":6.9,"g":6,"l":6},
{"d":"2016-06-30","b":13,"g":4.9,"l":7.2},
{"d":"2016-07-07","b":7.5,"g":8.4,"l":3.1},
{"d":"2016-07-14","b":11.6,"g":4.9,"l":9.8},
{"d":"2016-07-21","b":8.8,"g":6,"l":3.4},
{"d":"2016-07-28","b":14.6,"g":7.8,"l":15},
{"d":"2016-08-04","b":7.3,"g":5.1,"l":6.2},
{"d":"2016-08-11","b":13.8,"g":9,"l":10.6},
{"d":"2016-08-18","b":10.4,"g":8.6,"l":3.9},
{"d":"2016-08-25","b":18,"g":15.5,"l":19},
{"d":"2016-09-01","b":7.7,"g":11,"l":10.6},
{"d":"2016-09-08","b":13.8,"g":18,"l":25},
{"d":"2016-09-15","b":13.5,"g":17.6,"l":9.3},
{"d":"2016-09-22","b":10.7,"g":26.5,"l":19},
{"d":"2016-09-29","b":19.8,"g":12.7,"l":32},
{"d":"2016-10-06","b":9.1,"g":19,"l":11},
{"d":"2016-10-13","b":15.6,"g":19,"l":44},
{"d":"2016-10-20","b":9.7,"g":13.4,"l":21},
{"d":"2016-10-27","b":16,"g":23.5,"l":32},
{"d":"2016-11-03","b":5.4,"g":12.3,"l":16},
{"d":"2016-11-10","b":11.8,"g":23,"l":37},
{"d":"2016-11-17","b":9.7,"g":15,"l":9},
{"d":"2016-11-24","b":18,"g":23,"l":34},
{"d":"2016-12-01","b":8.3,"g":19,"l":14},
{"d":"2016-12-08","b":14.7,"g":29,"l":22},
{"d":"2016-12-15","b":12.6,"g":13.4,"l":7.4},
{"d":"2016-12-22","b":10,"g":19.5,"l":30},
{"d":"2016-12-29","b":19,"g":21,"l":15},
{"d":"2017-01-05","b":9,"g":15.5,"l":29},
{"d":"2017-01-12","b":16.9,"g":27,"l":6.9},
{"d":"2017-01-19","b":11.7,"g":13,"l":9.5},
{"d":"2017-01-26","b":20.8,"g":22.8,"l":16},
{"d":"2017-02-02","b":8.2,"g":16.6,"l":5.8},
{"d":"2017-02-09","b":17,"g":28.8,"l":37},
{"d":"2017-02-16","b":20.7,"g":16.6,"l":60},
{"d":"2017-02-23","b":11,"g":18.2,"l":130},
{"d":"2017-03-02","b":16.5,"g":22.5,"l":48},
{"d":"2017-03-09","b":12.4,"g":12,"l":86},
{"d":"2017-03-16","b":20,"g":17.6,"l":54},
{"d":"2017-03-23","b":9.1,"g":12.2,"l":20},
{"d":"2017-03-30","b":15.3,"g":16.2,"l":60},
{"d":"2017-04-06","b":8.1,"g":7.4,"l":40},
{"d":"2017-04-13","b":14.3,"g":10.9,"l":10},
{"d":"2017-04-20","b":9.5,"g":7,"l":38},
{"d":"2017-04-27","b":16,"g":10.7,"l":12.6},
{"d":"2017-05-04","b":6,"g":5.5,"l":25},
{"d":"2017-05-11","b":12,"g":5.5,"l":6.9},
{"d":"2017-05-18","b":13.9,"g":6.5,"l":11.6},
{"d":"2017-05-25","b":7.3,"g":3.4,"l":16.3},
{"d":"2017-06-01","b":10.5,"g":4.8,"l":4.9},
{"d":"2017-06-08","b":8.1,"g":3.3,"l":22},
{"d":"2017-06-15","b":13.6,"g":6.1,"l":6},
{"d":"2017-06-22","b":6.6,"g":4.2,"l":7.8},
{"d":"2017-06-29","b":11.6,"g":6.9,"l":3.9},
{"d":"2017-07-06","b":8.4,"g":6.7,"l":9},
{"d":"2017-07-13","b":14.4,"g":11.2,"l":4.8},
{"d":"2017-07-20","b":6,"g":6,"l":2},
{"d":"2017-07-27","b":10.6,"g":10,"l":6.8},
{"d":"2017-08-03","b":9.2,"g":12.1,"l":2.3},
{"d":"2017-08-10","b":7.4,"g":9.8,"l":9.9},
{"d":"2017-08-17","b":14.4,"g":20.3,"l":3.7},
{"d":"2017-08-24","b":7.4,"g":14.7,"l":5},
{"d":"2017-08-31","b":11.2,"g":21.9,"l":13},
{"d":"2017-09-07","b":8.8,"g":12.6,"l":4.2},
{"d":"2017-09-14","b":15.2,"g":17.5,"l":7.2},
{"d":"2017-09-21","b":7.3,"g":11.9,"l":9.6},
{"d":"2017-09-28","b":12.9,"g":14.5,"l":3.3},
{"d":"2017-10-05","b":9.2,"g":5.1,"l":18.4},
{"d":"2017-10-12","b":15.8,"g":6.3,"l":7.2},
{"d":"2017-10-19","b":6.8,"g":5.3,"l":13},
{"d":"2017-10-26","b":12.1,"g":3.7,"l":7.5},
{"d":"2017-11-02","b":10.6,"g":8.1,"l":19.8},
{"d":"2017-11-09","b":8.6,"g":4.9,"l":7.5},
{"d":"2017-11-16","b":16,"g":10,"l":2.3},
{"d":"2017-11-23","b":7.4,"g":7.9,"l":5.7},
{"d":"2017-11-30","b":13.7,"g":14.3,"l":1.4},
{"d":"2017-12-07","b":9.3,"g":7.7,"l":6.6},
{"d":"2017-12-14","b":16.2,"g":8.8,"l":2.6},
{"d":"2017-12-21","b":6.1,"g":10.7,"l":4.3},
{"d":"2017-12-28","b":13.8,"g":4.9,"l":1.4},
{"d":"2018-01-04","b":17.5,"g":5.8,"l":7.1},
{"d":"2018-01-11","b":21,"g":3,"l":5.5},
{"d":"2018-01-18","b":9.4,"g":5.9,"l":9.3},
{"d":"2018-01-25","b":17.8,"g":3.4,"l":3.3},
{"d":"2018-02-01","b":16.5,"g":5.9,"l":18},
{"d":"2018-02-08","b":14,"g":4,"l":7.6},
{"d":"2018-02-15","b":27.8,"g":6.3,"l":13.7},
{"d":"2018-02-22","b":13.7,"g":3.7,"l":8},
{"d":"2018-03-01","b":26.7,"g":4.4,"l":26},
{"d":"2018-03-08","b":19.4,"g":5.9,"l":17.5},
{"d":"2018-03-15","b":37.6,"g":3.8,"l":10},
{"d":"2018-03-22","b":15,"g":6.7,"l":40},
{"d":"2018-03-29","b":31,"g":5.6,"l":15.8},
{"d":"2018-04-05","b":39,"g":8.9,"l":62},
{"d":"2018-04-12","b":20.5,"g":5.6,"l":31},
{"d":"2018-04-19","b":29,"g":6.9,"l":46},
{"d":"2018-04-26","b":22,"g":4.8,"l":14},
{"d":"2018-05-03","b":37,"g":6.1,"l":54},
{"d":"2018-05-10","b":17.5,"g":2.6,"l":27},
{"d":"2018-05-17","b":32,"g":3.5,"l":66},
{"d":"2018-05-24","b":23.7,"g":3.3,"l":22},
{"d":"2018-05-31","b":35,"g":2.5,"l":92},
{"d":"2018-06-07","b":24,"g":4.2,"l":36},
{"d":"2018-06-14","b":42,"g":3.4,"l":62},
{"d":"2018-06-21","b":15.9,"g":5.4,"l":33},
{"d":"2018-06-28","b":33,"g":3.4,"l":83},
{"d":"2018-07-05","b":41,"g":4.9,"l":48.5},
{"d":"2018-07-12","b":23,"g":4.2,"l":23},
{"d":"2018-07-19","b":35.5,"g":6.7,"l":83},
{"d":"2018-07-26","b":27,"g":3.7,"l":30},
{"d":"2018-08-02","b":45,"g":6.5,"l":130},
{"d":"2018-08-09","b":21.7,"g":7.7,"l":52},
{"d":"2018-08-16","b":38.5,"g":6.8,"l":77},
{"d":"2018-08-23","b":27.5,"g":14.7,"l":25},
{"d":"2018-08-30","b":47,"g":19,"l":95},
{"d":"2018-09-06","b":19.6,"g":12.5,"l":52},
{"d":"2018-09-13","b":34.5,"g":5.9,"l":90},
{"d":"2018-09-20","b":30.4,"g":5.1,"l":39},
{"d":"2018-09-27","b":24.6,"g":2.6,"l":69},
{"d":"2018-10-04","b":46.8,"g":2.7,"l":97},
{"d":"2018-10-11","b":22.3,"g":3.5,"l":29},
{"d":"2018-10-18","b":35.5,"g":2.8,"l":37},
{"d":"2018-10-25","b":27.5,"g":2.9,"l":93},
{"d":"2018-11-01","b":46,"g":2,"l":56},
{"d":"2018-11-08","b":22,"g":3.2,"l":27},
{"d":"2018-11-15","b":39,"g":1.5,"l":98},
{"d":"2018-11-22","b":27.5,"g":2.6,"l":34},
{"d":"2018-11-29","b":47,"g":1.8,"l":120},
{"d":"2018-12-06","b":18.9,"g":2.7,"l":43},
{"d":"2018-12-13","b":31,"g":1.4,"l":57},
{"d":"2018-12-20","b":25.5,"g":1.5,"l":16.6},
{"d":"2018-12-27","b":21,"g":1.8,"l":65},
{"d":"2019-01-03","b":40.8,"g":1,"l":31},
{"d":"2019-01-10","b":19.3,"g":1.6,"l":55},
{"d":"2019-01-17","b":36,"g":1.1,"l":18.8},
{"d":"2019-01-24","b":25,"g":1.8,"l":36},
{"d":"2019-01-31","b":44,"g":1.2,"l":55},
{"d":"2019-02-07","b":16.6,"g":2.1,"l":18},
{"d":"2019-02-14","b":33,"g":2.2,"l":52},
{"d":"2019-02-21","b":38,"g":4.1,"l":25},
{"d":"2019-02-28","b":19.8,"g":2.5,"l":38},
{"d":"2019-03-07","b":28.6,"g":8,"l":19}
]},
"transform":[{"fold":["b","g","l","B","G","L"],"as":["s","v"]},{"filter":"isValid(datum.v)"}],
"encoding":{
"x":{"field":"d","type":"temporal","scale":{"type":"utc","domain":[{"year":2014,"month":3,"date":10,"utc":true},{"year":2019,"month":3,"date":10,"utc":true}]},
"axis":{"title":null,"format":"%y/%-m/%-d","labelAngle":-45,"labelColor":"#c0c0c0","labelFont":"Liberation Sans","labelFontSize":11,"ticks":false,"domain":false,"grid":false,"labelPadding":5,"labelOverlap":false,
"values":[{"year":2014,"month":3,"date":10,"utc":true},{"year":2014,"month":6,"date":10,"utc":true},{"year":2014,"month":9,"date":10,"utc":true},{"year":2014,"month":12,"date":10,"utc":true},{"year":2015,"month":3,"date":10,"utc":true},{"year":2015,"month":6,"date":10,"utc":true},{"year":2015,"month":9,"date":10,"utc":true},{"year":2015,"month":12,"date":10,"utc":true},{"year":2016,"month":3,"date":10,"utc":true},{"year":2016,"month":6,"date":10,"utc":true},{"year":2016,"month":9,"date":10,"utc":true},{"year":2016,"month":12,"date":10,"utc":true},{"year":2017,"month":3,"date":10,"utc":true},{"year":2017,"month":6,"date":10,"utc":true},{"year":2017,"month":9,"date":10,"utc":true},{"year":2017,"month":12,"date":10,"utc":true},{"year":2018,"month":3,"date":10,"utc":true},{"year":2018,"month":6,"date":10,"utc":true},{"year":2018,"month":9,"date":10,"utc":true},{"year":2018,"month":12,"date":10,"utc":true},{"year":2019,"month":3,"date":10,"utc":true}]}},
"y":{"field":"v","type":"quantitative","scale":{"domain":[0,100],"nice":false,"zero":true},
"axis":{"title":null,"values":[0,10,20,30,40,50,60,70,80,90,100],"labelColor":"#c0c0c0","labelFont":"Liberation Sans","labelFontSize":11,"ticks":false,"domain":false,"gridColor":"#606060","gridWidth":1,"labelPadding":9}},
"color":{"field":"s","type":"nominal","scale":{"domain":["b","g","l","B","G","L"],"range":["#3d6cb4","#858585","#b8950f","#4a80dc","#cccccc","#ffc70d"]},
"legend":{"title":null,"orient":"none","legendX":10,"legendY":384,"columns":2,"direction":"horizontal","symbolType":"stroke","symbolSize":529,"symbolStrokeWidth":2,"labelFont":"Liberation Sans","labelFontSize":10.5,"labelColor":"#cfcfcf","labelOffset":4,"labelLimit":0,"columnPadding":25,"rowPadding":8.5,"padding":0,
"labelExpr":"datum.value == 'b' ? \"Bitcoin's Marketcap/txVolume\" : datum.value == 'g' ? \"Dogecoin's Marketcap/txVolume\" : datum.value == 'l' ? \"Litecoin's Marketcap/txVolume\" : datum.value == 'B' ? \"30D (Bitcoin's Marketcap/txVolume)\" : datum.value == 'G' ? \"30D (Dogecoin's Marketcap/txVolume)\" : \"30D (Litecoin's Marketcap/txVolume)\""}}
},
"layer":[
{"transform":[{"filter":{"field":"s","oneOf":["b","g","l"]}}],"mark":{"type":"line","clip":true,"strokeWidth":1,"opacity":0.9}},
{"transform":[{"filter":{"field":"s","oneOf":["B","G","L"]}}],"mark":{"type":"line","clip":true,"strokeWidth":2.2}}
]
}
